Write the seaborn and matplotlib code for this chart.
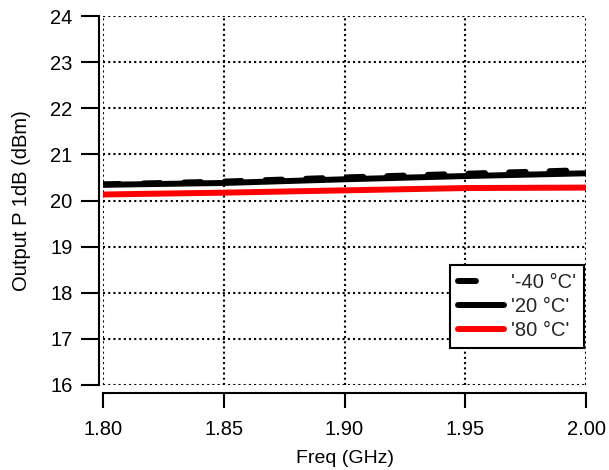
import matplotlib
matplotlib.use("Agg")
import matplotlib.pyplot as plt
import seaborn as sns
import pandas as pd

# Output P1dB versus frequency at three temperatures
freq_ghz = [1.80, 1.85, 1.90, 1.95, 2.00]
p1db_m40 = [20.35, 20.41, 20.50, 20.58, 20.66]
p1db_20 = [20.34, 20.38, 20.46, 20.53, 20.59]
p1db_80 = [20.13, 20.17, 20.22, 20.27, 20.28]
series_labels = ["'-40 °C'", "'20 °C'", "'80 °C'"]
x_ticks = [1.80, 1.85, 1.90, 1.95, 2.00]
y_ticks = [16, 17, 18, 19, 20, 21, 22, 23, 24]

rows = []
for label, vals in zip(series_labels, [p1db_m40, p1db_20, p1db_80]):
    for f, v in zip(freq_ghz, vals):
        rows.append({"Freq (GHz)": f, "P1dB": v, "Temp": label})
df = pd.DataFrame(rows)

sns.set_theme(style="white")
plt.rcParams["font.family"] = ["Liberation Sans", "DejaVu Sans"]

fig = plt.figure(figsize=(6.09, 4.70), dpi=100)
ax = fig.add_axes([103 / 609, 1 - 385 / 470, 483 / 609, 369 / 470])

palette = {series_labels[0]: "black", series_labels[1]: "black", series_labels[2]: "#ff0000"}
dashes = {series_labels[0]: (2.8, 4.0), series_labels[1]: "", series_labels[2]: ""}
sns.lineplot(data=df, x="Freq (GHz)", y="P1dB", hue="Temp", style="Temp",
             palette=palette, dashes=dashes, linewidth=4.3, ax=ax,
             hue_order=series_labels, style_order=series_labels,
             solid_capstyle="round", dash_capstyle="round")

# draw order: red, black, then dashed on top
lines = ax.get_lines()
for ln, z in zip(lines[:3], [4, 3, 2]):
    ln.set_zorder(z)

ax.set_xlim(1.80, 2.00)
ax.set_ylim(16, 24)
ax.set_xticks(x_ticks)
ax.set_xticklabels([f"{t:.2f}" for t in x_ticks])
ax.set_yticks(y_ticks)
ax.set_xlabel("Freq (GHz)", fontsize=14, color="black", labelpad=8)
ax.set_ylabel("Output P 1dB (dBm)", fontsize=14.5, color="black", labelpad=14)

ax.grid(True, color="black", linestyle=(0, (1, 1.5)), linewidth=1.5)
for side in ["top", "right"]:
    ax.spines[side].set_visible(False)
ax.spines["left"].set_position(("outward", 3))
ax.spines["bottom"].set_position(("outward", 6))
for side in ["left", "bottom"]:
    ax.spines[side].set_color("black")
    ax.spines[side].set_linewidth(1.5)

ax.tick_params(axis="y", direction="out", length=13, width=1.5, colors="black",
               labelsize=14.5, pad=6, left=True)
ax.tick_params(axis="x", direction="out", length=11, width=1.5, colors="black",
               labelsize=14.5, pad=8, bottom=True)

leg = ax.legend(loc="lower right", bbox_to_anchor=(0.996, 0.100), fontsize=14.5,
                frameon=True, fancybox=False, framealpha=1, edgecolor="black",
                handlelength=2.3, borderpad=0.4, labelspacing=0.25, handletextpad=0.35,
                borderaxespad=0, title=None)
leg.get_frame().set_linewidth(1.5)
# the dashed handle shows a single short dash
leg.get_lines()[0].set_dashes((3.0, 10.0))

fig.savefig("out.png", dpi=100)
